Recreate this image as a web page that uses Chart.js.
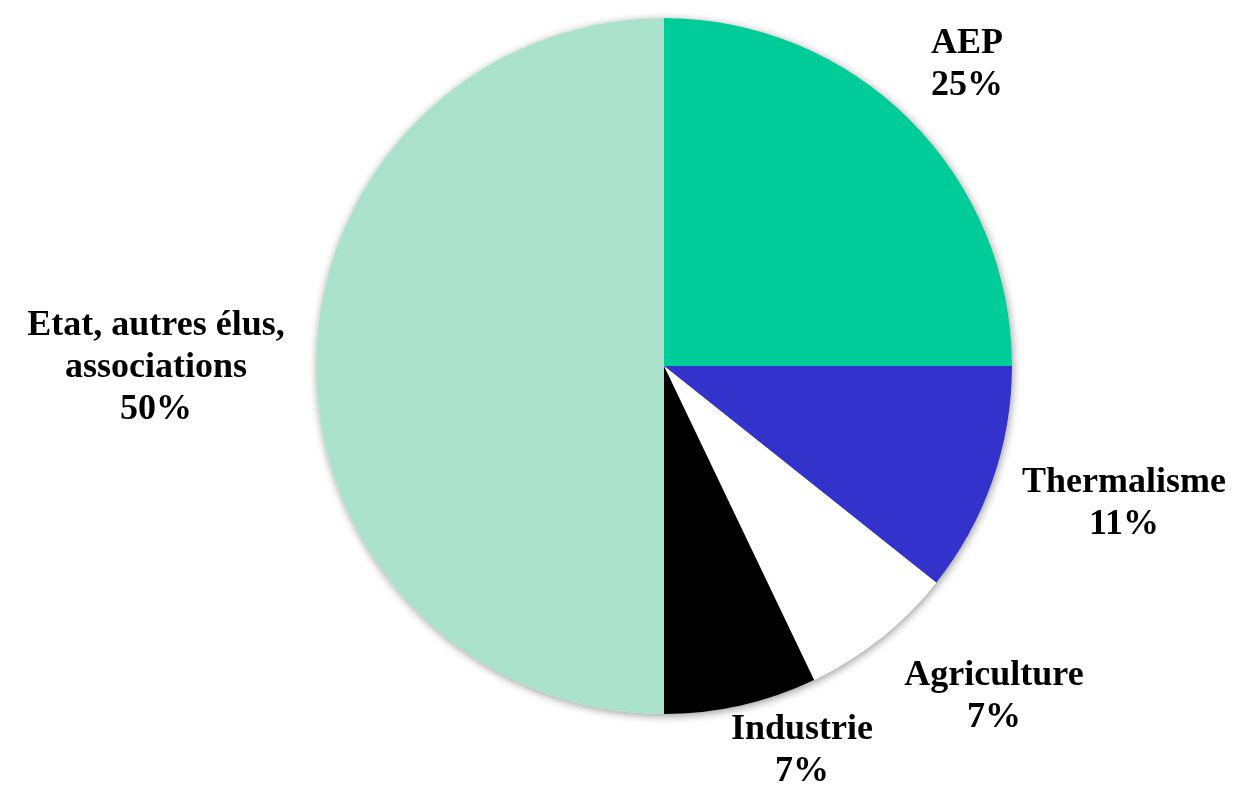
<!DOCTYPE html>
<html>
<head>
<meta charset="utf-8">
<script src="https://cdn.jsdelivr.net/npm/chart.js@4/dist/chart.umd.min.js"></script>
<style>
  html, body { margin: 0; padding: 0; background: #ffffff; }
  #wrap { width: 1238px; height: 785px; position: relative; }
</style>
</head>
<body>
<div id="wrap"><canvas id="pieChart"></canvas></div>
<script>
// Data
const categories = ['AEP', 'Thermalisme', 'Agriculture', 'Industrie', ['Etat, autres élus,', 'associations']];
const shares = [25, 10.7, 7.2, 7.1, 50];
const sliceColors = ['#00cc99', '#3333cc', '#ffffff', '#000000', '#aae2cc'];

// label anchors, pixel offsets from the pie centre (Excel "best fit" placement)
const labelOffsets = [[303, -301], [460, 138], [330, 331], [138, 385], [-508, 2]];

// soft shadow under the whole pie
const pieShadow = {
    id: 'pieShadow',
    beforeDatasetsDraw(chart) {
        const arc = chart.getDatasetMeta(0).data[0];
        if (!arc) return;
        const ctx = chart.ctx;
        ctx.save();
        ctx.shadowColor = 'rgba(0,0,0,0.4)';
        ctx.shadowBlur = 9;
        ctx.shadowOffsetX = 1;
        ctx.shadowOffsetY = 2;
        ctx.fillStyle = '#ffffff';
        ctx.beginPath();
        ctx.arc(arc.x, arc.y, arc.outerRadius, 0, Math.PI * 2);
        ctx.fill();
        ctx.restore();
    }
};

// category + percent labels outside the slices
const sliceLabels = {
    id: 'sliceLabels',
    afterDatasetsDraw(chart) {
        const ctx = chart.ctx;
        const meta = chart.getDatasetMeta(0);
        const total = shares.reduce((a, b) => a + b, 0);
        ctx.save();
        ctx.font = 'bold 36px "Liberation Serif", "Times New Roman", serif';
        ctx.fillStyle = '#000000';
        ctx.textAlign = 'center';
        ctx.textBaseline = 'middle';
        meta.data.forEach((arc, i) => {
            const name = categories[i];
            const lines = (Array.isArray(name) ? name.slice() : [name]);
            lines.push(Math.round(shares[i] / total * 100) + '%');
            const cx = arc.x + labelOffsets[i][0];
            const cy = arc.y + labelOffsets[i][1];
            const lh = 42;
            const y0 = cy - (lines.length - 1) * lh / 2;
            lines.forEach((t, k) => ctx.fillText(t, cx, y0 + k * lh));
        });
        ctx.restore();
    }
};

const ctx = document.getElementById('pieChart').getContext('2d');
new Chart(ctx, {
    type: 'pie',
    data: {
        labels: categories,
        datasets: [{
            data: shares,
            backgroundColor: sliceColors,
            borderWidth: 0,
            hoverOffset: 0
        }]
    },
    options: {
        responsive: true,
        maintainAspectRatio: false,
        animation: false,
        layout: {
            padding: { left: 316, right: 226, top: 18, bottom: 71 }
        },
        plugins: {
            legend: { display: false },
            tooltip: { enabled: false }
        }
    },
    plugins: [pieShadow, sliceLabels]
});
</script>
</body>
</html>
